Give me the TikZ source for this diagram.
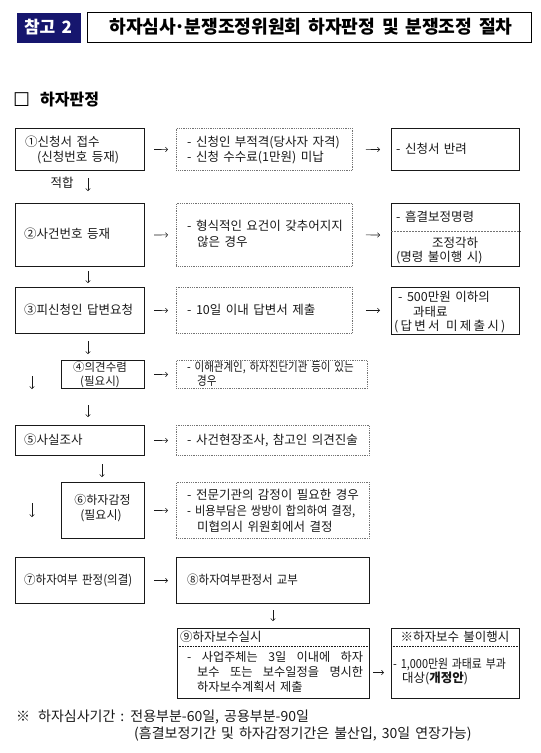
\documentclass[tikz,border=0pt]{standalone}
\usepackage{fontspec}
\usepackage{graphicx}
\setmainfont{Noto Sans CJK KR}[WordSpace=1.6]
\newfontfamily\lsfont{Noto Sans CJK KR}[LetterSpace=18,WordSpace=1.3]
\newfontfamily\djv{DejaVu Sans}
\usetikzlibrary{arrows.meta}
\definecolor{navy}{RGB}{22,22,110}
\definecolor{ink}{RGB}{25,25,25}
\begin{document}
\begin{tikzpicture}[x=1pt,y=-1pt,
 sbox/.style={draw=ink,line width=1.1pt,inner sep=0pt,anchor=north west},
 dbox/.style={draw=black!55,line width=0.8pt,dash pattern=on 0.9pt off 0.9pt,inner sep=0pt,anchor=north west},
 tx/.style={anchor=base west,inner sep=0pt,text=ink,font=\fontsize{12.5}{15}\selectfont},
 txc/.style={tx,anchor=base},
 arr/.style={draw=ink,line width=0.55pt,-{Straight Barb[length=2.2pt,width=4.6pt]}},
 hb/.style={shorten <=9pt,shorten >=8pt},
 hc/.style={shorten <=13pt,shorten >=11pt},
]
\useasboundingbox (0,0) rectangle (541,753);
\fill[white] (0,0) rectangle (541,753);

% ---------- header ----------
\node[sbox,draw=none,fill=navy,minimum width=64pt,minimum height=30pt] (tag) at (16,12) {};
\node[txc,text=white,font=\fontsize{17}{20}\selectfont\bfseries] (tagt) at (48,33.4) {참고 2};
\node[sbox,line width=1.4pt,draw=black,minimum width=444pt,minimum height=30pt] (title) at (87,12) {};
\node[txc,text=black,font=\fontsize{18.2}{20}\selectfont\bfseries] (titlet) at (311,33.8) {하자심사\kern-1.5pt·\kern-1.5pt분쟁조정위원회 하자판정 및 분쟁조정 절차};

\node[tx,font=\djv\fontsize{19}{20}\selectfont,text=black] (sq) at (13,106.5) {☐};
\node[tx,font=\fontsize{16}{18}\selectfont\bfseries,text=black] (sec) at (40,105) {하자판정};

% ---------- row 1 ----------
\node[sbox,minimum width=129pt,minimum height=42pt] (b1) at (15,128) {};
\node[dbox,minimum width=176pt,minimum height=42pt] (d1) at (176,128) {};
\node[sbox,minimum width=128pt,minimum height=42pt] (r1) at (391,128) {};
\node[tx] (t1a) at (25,146.3) {①신청서 접수};
\node[tx] (t1b) at (37,161.3) {(신청번호 등재)};
\node[tx] (u1a) at (187,146.3) {- 신청인 부적격(당사자 자격)};
\node[tx] (u1b) at (187,161.3) {- 신청 수수료(1만원) 미납};
\node[tx] (v1) at (396,153.8) {- 신청서 반려};
\draw[arr,hb] (b1.east) -- (d1.west);
\draw[arr,hc] (d1.east) -- (r1.west);

\coordinate (vx1) at (88,0);
\node[txc] (ok) at (62,187.8) {적합};

% ---------- row 2 ----------
\node[sbox,minimum width=129pt,minimum height=63pt] (b2) at (15,203) {};
\node[dbox,minimum width=176pt,minimum height=63pt] (d2) at (176,203) {};
\node[sbox,minimum width=128pt,minimum height=63pt] (r2) at (391,203) {};
\node[tx] (t2) at (24,238.8) {②사건번호 등재};
\node[tx] (u2a) at (187,230.8) {- 형식적인 요건이 갖추어지지};
\node[tx] (u2b) at (197,246.8) {않은 경우};
\node[tx] (v2a) at (396,221.8) {- 흠결보정명령};
\coordinate (r2d) at (0,231.5);
\draw[black!55,line width=0.6pt,dash pattern=on 2pt off 1pt] (r2.west |- r2d) -- (r2.east |- r2d);
\node[tx] (v2b) at (432,247.8) {조정각하};
\node[tx] (v2c) at (396,261.8) {(명령 불이행 시)};
\draw[arr,hb] (b2.east) -- (d2.west);
\draw[arr,hc] (d2.east) -- (r2.west);
\draw[arr,shorten <=7pt,shorten >=12pt] (b1.south -| vx1) -- (b2.north -| vx1);

% ---------- row 3 ----------
\node[sbox,minimum width=129pt,minimum height=46pt] (b3) at (15,287) {};
\node[dbox,minimum width=176pt,minimum height=46pt] (d3) at (176,287) {};
\node[sbox,minimum width=128pt,minimum height=47pt] (r3) at (391,287) {};
\node[tx] (t3) at (24,314.8) {③피신청인 답변요청};
\node[tx] (u3) at (187,314.8) {- 10일 이내 답변서 제출};
\node[tx] (v3a) at (398,301.8) {- 500만원 이하의};
\node[tx] (v3b) at (413,316.8) {과태료};
\node[tx,font=\lsfont\fontsize{12.5}{15}\selectfont] (v3c) at (394,330.8) {(답변서 미제출시)};
\draw[arr,hb] (b3.east) -- (d3.west);
\draw[arr,hc] (d3.east) -- (r3.west |- d3.east);
\draw[arr,shorten <=4pt,shorten >=4pt] (b2.south -| vx1) -- (b3.north -| vx1);

% ---------- row 4 ----------
\node[sbox,minimum width=83pt,minimum height=28pt] (b4) at (61,360) {};
\node[dbox,minimum width=191pt,minimum height=28pt] (d4) at (176,360) {};
\node[txc,font=\fontsize{11.5}{14}\selectfont] (t4a) at (100,371.2) {④의견수렴};
\node[txc,font=\fontsize{11.5}{14}\selectfont] (t4b) at (100,385.2) {(필요시)};
\node[tx] (u4a) at (187,371.5) {\scalebox{0.84}[1]{- 이해관계인, 하자진단기관 등이 있는}};
\node[tx] (u4b) at (197,385.5) {\scalebox{0.84}[1]{경우}};
\draw[arr,hb] (b4.east) -- (d4.west);
\draw[arr,shorten <=7pt,shorten >=6pt] (b3.south -| vx1) -- (b4.north -| vx1);
\coordinate (s4a) at (32,376);
\coordinate (s4b) at (32,389);
\draw[arr] (s4a) -- (s4b);

% ---------- row 5 ----------
\node[sbox,minimum width=129pt,minimum height=30pt] (b5) at (15,425) {};
\node[dbox,minimum width=193pt,minimum height=30pt] (d5) at (176,425) {};
\node[tx] (t5) at (24,444.8) {⑤사실조사};
\node[tx] (u5) at (187,444.8) {- 사건현장조사, 참고인 의견진술};
\draw[arr,hb] (b5.east) -- (d5.west);
\draw[arr,shorten <=16pt,shorten >=8pt] (b4.south -| vx1) -- (b5.north -| vx1);

% ---------- row 6 ----------
\coordinate (vx2) at (102,0);
\node[sbox,minimum width=83pt,minimum height=56pt] (b6) at (61,482) {};
\node[dbox,minimum width=193pt,minimum height=56pt] (d6) at (176,482) {};
\node[txc,font=\fontsize{12}{15}\selectfont] (t6a) at (102.5,504.5) {⑥하자감정};
\node[txc,font=\fontsize{12}{15}\selectfont] (t6b) at (101,519.5) {(필요시)};
\node[tx] (u6a) at (187,499.8) {- 전문기관의 감정이 필요한 경우};
\node[tx] (u6b) at (187,515.8) {\scalebox{0.9}[1]{- 비용부담은 쌍방이 합의하여 결정,}};
\node[tx] (u6c) at (197,531.8) {미협의시 위원회에서 결정};
\draw[arr,hb] (b6.east) -- (d6.west);
\draw[arr,shorten <=8pt,shorten >=5pt] (b5.south -| vx2) -- (b6.north -| vx2);
\coordinate (s6a) at (32,503);
\coordinate (s6b) at (32,517);
\draw[arr] (s6a) -- (s6b);

% ---------- row 7 ----------
\node[sbox,minimum width=129pt,minimum height=46pt] (b7) at (15,557) {};
\node[sbox,minimum width=193pt,minimum height=46pt] (b8) at (176,557) {};
\node[tx] (t7) at (24,584.8) {\scalebox{0.92}[1]{⑦하자여부 판정(의결)}};
\node[tx] (t8) at (187,584.8) {\scalebox{0.92}[1]{⑧하자여부판정서 교부}};
\draw[arr,hb] (b7.east) -- (b8.west);

% ---------- row 9 ----------
\coordinate (vx3) at (273,0);
\node[sbox,minimum width=192pt,minimum height=70pt] (b9) at (177,628) {};
\node[sbox,minimum width=128pt,minimum height=70pt] (b10) at (391,628) {};
\coordinate (dv) at (0,646);
\draw[ink,line width=0.7pt,dash pattern=on 0.8pt off 0.8pt] (b9.west |- dv) -- (b9.east |- dv);
\draw[ink,line width=0.7pt,dash pattern=on 0.8pt off 0.8pt] (b10.west |- dv) -- (b10.east |- dv);
\node[tx] (t9) at (180,641.8) {⑨하자보수실시};
\node[tx,font=\fontsize{12.2}{15}\selectfont] (u9a) at (187,661.8) {\makebox[176pt][s]{- 사업주체는 3일 이내에 하자}};
\node[tx,font=\fontsize{12.2}{15}\selectfont] (u9b) at (197,676.8) {\makebox[166pt][s]{보수 또는 보수일정을 명시한}};
\node[tx,font=\fontsize{12.2}{15}\selectfont] (u9c) at (197,691.8) {하자보수계획서 제출};
\node[txc] (t10) at (455,641.8) {※하자보수 불이행시};
\node[tx] (u10a) at (393,668.8) {\scalebox{0.87}[1]{- 1,000만원 과태료 부과}};
\node[tx] (u10b) at (402,682.8) {대상(\textbf{개정안})};
\draw[arr,shorten <=6pt,shorten >=7pt] (b8.south -| vx3) -- (b9.north -| vx3);
\draw[arr,shorten <=3pt,shorten >=7pt] ([yshift=-9pt]b9.east) -- ([yshift=-9pt]b10.west);

% ---------- footnote ----------
\node[tx,font=\fontsize{14}{16}\selectfont] (fn1) at (16,721.2) {※\hspace{8pt}하자심사기간 : 전용부분-60일, 공용부분-90일};
\node[tx,font=\fontsize{14}{16}\selectfont] (fn2) at (134,738.4) {(흠결보정기간 및 하자감정기간은 불산입, 30일 연장가능)};
\end{tikzpicture}
\end{document}
